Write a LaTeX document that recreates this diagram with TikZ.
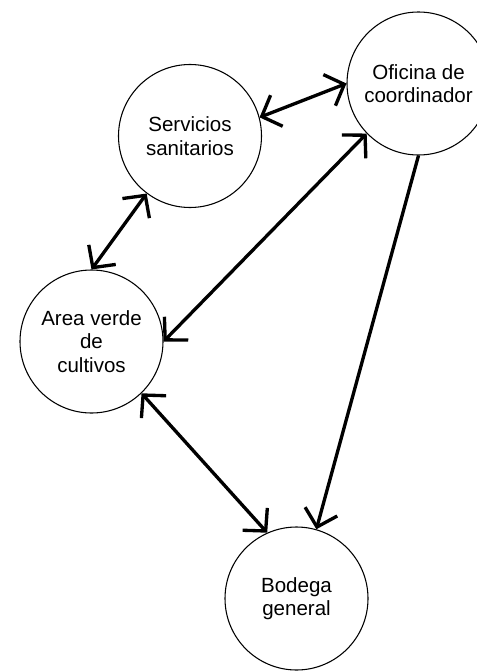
\documentclass[tikz,border=0pt]{standalone}
\usepackage{fontspec}
\setmainfont{Liberation Sans}
\usetikzlibrary{arrows.meta}
\begin{document}
\begin{tikzpicture}[x=0.75pt,y=-0.75pt,
  place/.style={circle,draw,line width=0.8pt,minimum size=107.25pt,inner sep=0pt,
    align=center,font=\fontsize{15.4pt}{17.6pt}\selectfont},
  link/.style={line width=2.5pt,{Straight Barb[length=12pt,width=25pt,line width=2.5pt]}-{Straight Barb[length=12pt,width=25pt,line width=2.5pt]}},
  oneway/.style={line width=2.5pt,-{Straight Barb[length=12pt,width=25pt,line width=2.5pt]}}]
\useasboundingbox (0,0) rectangle (477,671);
\clip (0,0) rectangle (477,671);
\node[place] (serv) at (190,136) {Servicios\\sanitarios};
\node[place] (ofic) at (418.5,83.5) {Oficina de\\coordinador};
\node[place] (area) at (91.5,341.5) {Area verde\\de\\cultivos};
\node[place] (bod) at (296.5,598.5) {Bodega\\general};
\draw[link] (serv.15.6) -- (ofic.180);
\draw[link] (serv.233.6) -- (area.90);
\draw[link] (ofic.224.7) -- (area.0);
\draw[link] (area.-46.7) -- (bod.114.2);
\draw[oneway] (ofic.270) -- (bod.74.9);
\end{tikzpicture}
\end{document}
